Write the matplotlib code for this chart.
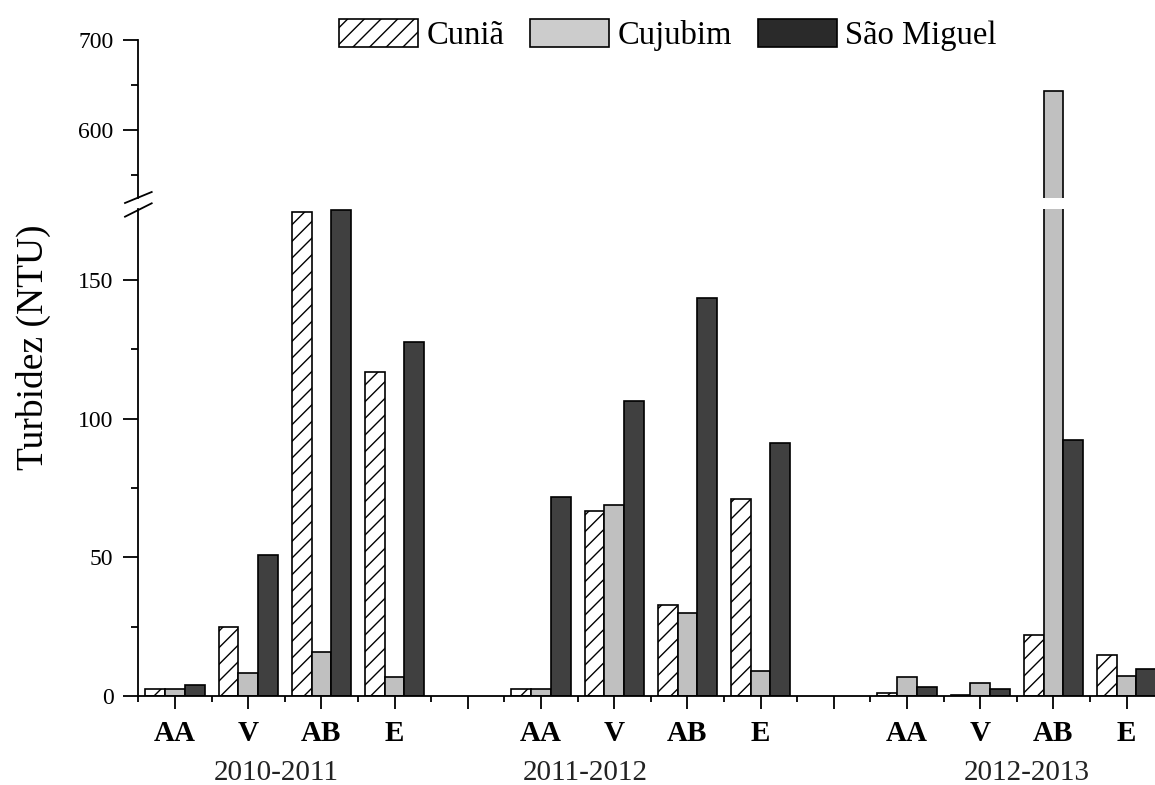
import matplotlib
matplotlib.use('Agg')
import matplotlib.pyplot as plt
from matplotlib.patches import Patch
from matplotlib.lines import Line2D
from matplotlib.ticker import FixedLocator, NullFormatter

plt.rcParams['font.family'] = ['Liberation Serif', 'DejaVu Serif']
plt.rcParams['hatch.linewidth'] = 1.0

#  data (NTU)
seasons = ['AA', 'V', 'AB', 'E']
periods = ['2010-2011', '2011-2012', '2012-2013']
sites = ['Cuniã', 'Cujubim', 'São Miguel']

cunia = [2.5, 25.0, 174.3, 116.6,
         2.5, 66.8, 32.8, 71.0,
         1.0, 0.4, 22.0, 14.8]
cujubim = [2.5, 8.4, 15.9, 6.7,
           2.5, 68.8, 30.0, 9.0,
           6.8, 4.6, 643.0, 7.3]
sao_miguel = [4.0, 50.8, 175.0, 127.5,
              71.8, 106.4, 143.3, 91.3,
              3.1, 2.5, 92.2, 9.6]

#  styles
bar_w = 0.27
styles = [dict(facecolor='white', hatch='//'),
          dict(facecolor='#c0c0c0'),
          dict(facecolor='#404040')]

W, H = 1155, 785
fig = plt.figure(figsize=(W / 100, H / 100), dpi=100)

def fx(px):
    return px / W

def fy(py):
    return 1 - py / H

x_left, x_right = 138.4, 1163.2
ax_lo = fig.add_axes([fx(x_left), fy(696), fx(x_right - x_left), fy(209) - fy(696)])
ax_hi = fig.add_axes([fx(x_left), fy(197.5), fx(x_right - x_left), fy(40) - fy(197.5)])

# x position of each bar group: 4 seasons then a blank slot per period
xpos = []
for p in range(len(periods)):
    for s in range(len(seasons)):
        xpos.append(p * 5 + s)

for ax in (ax_lo, ax_hi):
    for i, vals in enumerate([cunia, cujubim, sao_miguel]):
        ax.bar([x + (i - 1) * bar_w for x in xpos], vals, width=bar_w,
               edgecolor='black', linewidth=1.2, **styles[i])
    ax.set_xlim(-0.5, 13.5)
    ax.spines['top'].set_visible(False)
    ax.spines['right'].set_visible(False)
    ax.spines['left'].set_linewidth(1.3)
    ax.tick_params(axis='y', which='major', length=11, width=1.3, pad=7,
                   labelsize=17, direction='out')
    ax.tick_params(axis='y', which='minor', length=5, width=1.3, direction='out')

ax_lo.set_ylim(0, 175.5)
ax_lo.yaxis.set_major_locator(FixedLocator([0, 50, 100, 150]))
ax_lo.yaxis.set_minor_locator(FixedLocator([25, 75, 125]))
ax_hi.set_ylim(525, 700)
ax_hi.yaxis.set_major_locator(FixedLocator([600, 700]))
ax_hi.yaxis.set_minor_locator(FixedLocator([550, 650]))

ax_hi.spines['bottom'].set_visible(False)
ax_hi.tick_params(axis='x', which='both', bottom=False, labelbottom=False)

ax_lo.spines['bottom'].set_linewidth(1.3)
ax_lo.set_xticks(range(14))
ax_lo.set_xticklabels((seasons + ['']) * 2 + seasons, fontweight='bold', fontsize=21)
ax_lo.xaxis.set_minor_locator(FixedLocator([k + 0.5 for k in range(-1, 14)]))
ax_lo.xaxis.set_minor_formatter(NullFormatter())
ax_lo.tick_params(axis='x', which='major', length=9, width=1.3, pad=8, direction='out')
ax_lo.tick_params(axis='x', which='minor', length=4.5, width=1.3, direction='out')

#  period labels under the season labels
for x, lab in zip([1.39, 5.6, 11.64], periods):
    ax_lo.text(x, -77 / 487, lab, transform=ax_lo.get_xaxis_transform(),
               ha='center', va='center', fontsize=21, color='#222222')

fig.text(fx(33), fy(347), 'Turbidez (NTU)', rotation=90, ha='center', va='center',
         fontsize=27)

#  break marks on the y axis
for y0, y1 in [(203, 192), (216.7, 203.3)]:
    fig.add_artist(Line2D([fx(125), fx(151.7)], [fy(y0), fy(y1)],
                          color='black', linewidth=1.3))

handles = [Patch(facecolor='white', hatch='//', edgecolor='black', linewidth=1.2),
           Patch(facecolor='#cccccc', edgecolor='black', linewidth=1.2),
           Patch(facecolor='#2a2a2a', edgecolor='black', linewidth=1.2)]
fig.legend(handles, sites, loc='center left', bbox_to_anchor=(fx(339), fy(35)),
           ncol=3, frameon=False, fontsize=23.5, handlelength=2.42, handleheight=0.92,
           handletextpad=0.25, columnspacing=0.8, borderpad=0, borderaxespad=0)

fig.savefig('out.png', dpi=100)
